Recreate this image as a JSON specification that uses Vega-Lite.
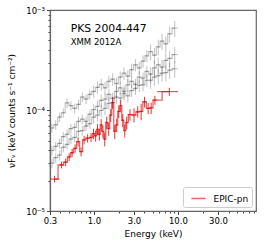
{
"$schema": "https://vega.github.io/schema/vega-lite/v6.json",
"width": 206, "height": 201,
"autosize": {"type": "none"},
"padding": {"left": 50, "top": 10, "right": 10, "bottom": 35},
"config": {
 "font": "DejaVu Sans",
 "view": {"stroke": "#666", "strokeWidth": 1.2},
 "axis": {"grid": false, "domainColor": "#666", "domainWidth": 1.2, "tickColor": "#444", "labelColor": "#000", "titleColor": "#000", "labelFontSize": 8.5, "titleFontSize": 9, "titleFontWeight": "normal", "labelFont": "DejaVu Sans", "titleFont": "DejaVu Sans"},
 "legend": {"labelFont": "DejaVu Sans"}
},
"datasets": {
"gray": [
{"s":"A","lo":0.300,"hi":0.333,"e":0.316,"f":6.7e-5,"fl":6.0e-5,"fh":7.4e-5},
{"s":"A","lo":0.333,"hi":0.370,"e":0.351,"f":7.2e-5,"fl":6.4e-5,"fh":8.0e-5},
{"s":"A","lo":0.370,"hi":0.410,"e":0.390,"f":8.6e-5,"fl":7.7e-5,"fh":9.5e-5},
{"s":"A","lo":0.410,"hi":0.455,"e":0.432,"f":9.5e-5,"fl":8.5e-5,"fh":1.05e-4},
{"s":"A","lo":0.455,"hi":0.505,"e":0.479,"f":1.19e-4,"fl":1.06e-4,"fh":1.32e-4},
{"s":"A","lo":0.505,"hi":0.560,"e":0.532,"f":1.12e-4,"fl":1.0e-4,"fh":1.24e-4},
{"s":"A","lo":0.560,"hi":0.622,"e":0.590,"f":1.05e-4,"fl":9.3e-5,"fh":1.17e-4},
{"s":"A","lo":0.622,"hi":0.690,"e":0.655,"f":1.15e-4,"fl":1.02e-4,"fh":1.28e-4},
{"s":"A","lo":0.690,"hi":0.765,"e":0.727,"f":1.36e-4,"fl":1.21e-4,"fh":1.51e-4},
{"s":"A","lo":0.765,"hi":0.849,"e":0.806,"f":1.30e-4,"fl":1.16e-4,"fh":1.44e-4},
{"s":"A","lo":0.849,"hi":0.942,"e":0.894,"f":1.45e-4,"fl":1.29e-4,"fh":1.61e-4},
{"s":"A","lo":0.942,"hi":1.046,"e":0.993,"f":1.55e-4,"fl":1.33e-4,"fh":1.77e-4},
{"s":"A","lo":1.046,"hi":1.160,"e":1.101,"f":1.70e-4,"fl":1.46e-4,"fh":1.94e-4},
{"s":"A","lo":1.160,"hi":1.288,"e":1.222,"f":1.82e-4,"fl":1.57e-4,"fh":2.07e-4},
{"s":"A","lo":1.288,"hi":1.429,"e":1.357,"f":1.68e-4,"fl":1.44e-4,"fh":1.92e-4},
{"s":"A","lo":1.429,"hi":1.585,"e":1.505,"f":1.95e-4,"fl":1.68e-4,"fh":2.22e-4},
{"s":"A","lo":1.585,"hi":1.759,"e":1.670,"f":2.05e-4,"fl":1.76e-4,"fh":2.34e-4},
{"s":"A","lo":1.759,"hi":1.952,"e":1.853,"f":1.85e-4,"fl":1.59e-4,"fh":2.11e-4},
{"s":"A","lo":1.952,"hi":2.167,"e":2.057,"f":2.15e-4,"fl":1.85e-4,"fh":2.45e-4},
{"s":"A","lo":2.167,"hi":2.404,"e":2.282,"f":2.35e-4,"fl":2.02e-4,"fh":2.68e-4},
{"s":"A","lo":2.404,"hi":2.668,"e":2.533,"f":2.20e-4,"fl":1.89e-4,"fh":2.51e-4},
{"s":"A","lo":2.668,"hi":2.961,"e":2.811,"f":2.55e-4,"fl":2.19e-4,"fh":2.91e-4},
{"s":"A","lo":2.961,"hi":3.286,"e":3.119,"f":2.85e-4,"fl":2.45e-4,"fh":3.25e-4},
{"s":"A","lo":3.286,"hi":3.647,"e":3.462,"f":2.65e-4,"fl":2.28e-4,"fh":3.02e-4},
{"s":"A","lo":3.647,"hi":4.047,"e":3.842,"f":3.10e-4,"fl":2.67e-4,"fh":3.53e-4},
{"s":"A","lo":4.047,"hi":4.491,"e":4.263,"f":3.50e-4,"fl":3.01e-4,"fh":3.99e-4},
{"s":"A","lo":4.491,"hi":4.984,"e":4.731,"f":3.85e-4,"fl":3.16e-4,"fh":4.54e-4},
{"s":"A","lo":4.984,"hi":5.531,"e":5.250,"f":3.55e-4,"fl":2.91e-4,"fh":4.19e-4},
{"s":"A","lo":5.531,"hi":6.138,"e":5.827,"f":4.30e-4,"fl":3.53e-4,"fh":5.07e-4},
{"s":"A","lo":6.138,"hi":6.812,"e":6.466,"f":4.90e-4,"fl":4.02e-4,"fh":5.78e-4},
{"s":"A","lo":6.812,"hi":7.560,"e":7.176,"f":4.60e-4,"fl":3.77e-4,"fh":5.43e-4},
{"s":"A","lo":7.560,"hi":8.390,"e":7.964,"f":5.80e-4,"fl":4.76e-4,"fh":6.84e-4},
{"s":"A","lo":8.390,"hi":10.0,"e":9.16,"f":6.60e-4,"fl":5.41e-4,"fh":7.79e-4},
{"s":"B","lo":0.300,"hi":0.333,"e":0.316,"f":4.0e-5,"fl":3.56e-5,"fh":4.44e-5},
{"s":"B","lo":0.333,"hi":0.370,"e":0.351,"f":4.4e-5,"fl":3.92e-5,"fh":4.88e-5},
{"s":"B","lo":0.370,"hi":0.410,"e":0.390,"f":4.7e-5,"fl":4.18e-5,"fh":5.22e-5},
{"s":"B","lo":0.410,"hi":0.455,"e":0.432,"f":5.5e-5,"fl":4.9e-5,"fh":6.1e-5},
{"s":"B","lo":0.455,"hi":0.505,"e":0.479,"f":5.8e-5,"fl":5.16e-5,"fh":6.44e-5},
{"s":"B","lo":0.505,"hi":0.560,"e":0.532,"f":6.6e-5,"fl":5.87e-5,"fh":7.33e-5},
{"s":"B","lo":0.560,"hi":0.622,"e":0.590,"f":6.8e-5,"fl":6.05e-5,"fh":7.55e-5},
{"s":"B","lo":0.622,"hi":0.690,"e":0.655,"f":7.8e-5,"fl":6.94e-5,"fh":8.66e-5},
{"s":"B","lo":0.690,"hi":0.765,"e":0.727,"f":8.2e-5,"fl":7.3e-5,"fh":9.1e-5},
{"s":"B","lo":0.765,"hi":0.849,"e":0.806,"f":7.8e-5,"fl":6.94e-5,"fh":8.66e-5},
{"s":"B","lo":0.849,"hi":0.942,"e":0.894,"f":9.2e-5,"fl":8.2e-5,"fh":1.02e-4},
{"s":"B","lo":0.942,"hi":1.046,"e":0.993,"f":1.02e-4,"fl":8.8e-5,"fh":1.16e-4},
{"s":"B","lo":1.046,"hi":1.160,"e":1.101,"f":1.10e-4,"fl":9.5e-5,"fh":1.25e-4},
{"s":"B","lo":1.160,"hi":1.288,"e":1.222,"f":1.26e-4,"fl":1.08e-4,"fh":1.44e-4},
{"s":"B","lo":1.288,"hi":1.429,"e":1.357,"f":1.30e-4,"fl":1.12e-4,"fh":1.48e-4},
{"s":"B","lo":1.429,"hi":1.585,"e":1.505,"f":1.45e-4,"fl":1.25e-4,"fh":1.65e-4},
{"s":"B","lo":1.585,"hi":1.759,"e":1.670,"f":1.32e-4,"fl":1.14e-4,"fh":1.5e-4},
{"s":"B","lo":1.759,"hi":1.952,"e":1.853,"f":1.55e-4,"fl":1.33e-4,"fh":1.77e-4},
{"s":"B","lo":1.952,"hi":2.167,"e":2.057,"f":1.68e-4,"fl":1.44e-4,"fh":1.92e-4},
{"s":"B","lo":2.167,"hi":2.404,"e":2.282,"f":1.55e-4,"fl":1.33e-4,"fh":1.77e-4},
{"s":"B","lo":2.404,"hi":2.668,"e":2.533,"f":1.80e-4,"fl":1.55e-4,"fh":2.05e-4},
{"s":"B","lo":2.668,"hi":2.961,"e":2.811,"f":1.95e-4,"fl":1.68e-4,"fh":2.22e-4},
{"s":"B","lo":2.961,"hi":3.286,"e":3.119,"f":1.82e-4,"fl":1.57e-4,"fh":2.07e-4},
{"s":"B","lo":3.286,"hi":3.647,"e":3.462,"f":2.15e-4,"fl":1.85e-4,"fh":2.45e-4},
{"s":"B","lo":3.647,"hi":4.047,"e":3.842,"f":2.10e-4,"fl":1.81e-4,"fh":2.39e-4},
{"s":"B","lo":4.047,"hi":4.491,"e":4.263,"f":2.45e-4,"fl":2.11e-4,"fh":2.79e-4},
{"s":"B","lo":4.491,"hi":4.984,"e":4.731,"f":2.30e-4,"fl":1.89e-4,"fh":2.71e-4},
{"s":"B","lo":4.984,"hi":5.531,"e":5.250,"f":2.65e-4,"fl":2.17e-4,"fh":3.13e-4},
{"s":"B","lo":5.531,"hi":6.138,"e":5.827,"f":2.85e-4,"fl":2.34e-4,"fh":3.36e-4},
{"s":"B","lo":6.138,"hi":6.812,"e":6.466,"f":2.70e-4,"fl":2.21e-4,"fh":3.19e-4},
{"s":"B","lo":6.812,"hi":7.560,"e":7.176,"f":3.15e-4,"fl":2.58e-4,"fh":3.72e-4},
{"s":"B","lo":7.560,"hi":8.390,"e":7.964,"f":3.30e-4,"fl":2.71e-4,"fh":3.89e-4},
{"s":"B","lo":8.390,"hi":10.0,"e":9.16,"f":3.60e-4,"fl":2.95e-4,"fh":4.25e-4},
{"s":"C","lo":0.300,"hi":0.333,"e":0.316,"f":3.0e-5,"fl":2.67e-5,"fh":3.33e-5},
{"s":"C","lo":0.333,"hi":0.370,"e":0.351,"f":3.4e-5,"fl":3.03e-5,"fh":3.77e-5},
{"s":"C","lo":0.370,"hi":0.410,"e":0.390,"f":3.6e-5,"fl":3.2e-5,"fh":4.0e-5},
{"s":"C","lo":0.410,"hi":0.455,"e":0.432,"f":4.3e-5,"fl":3.83e-5,"fh":4.77e-5},
{"s":"C","lo":0.455,"hi":0.505,"e":0.479,"f":4.6e-5,"fl":4.09e-5,"fh":5.11e-5},
{"s":"C","lo":0.505,"hi":0.560,"e":0.532,"f":5.2e-5,"fl":4.63e-5,"fh":5.77e-5},
{"s":"C","lo":0.560,"hi":0.622,"e":0.590,"f":5.4e-5,"fl":4.8e-5,"fh":6.0e-5},
{"s":"C","lo":0.622,"hi":0.690,"e":0.655,"f":6.2e-5,"fl":5.52e-5,"fh":6.88e-5},
{"s":"C","lo":0.690,"hi":0.765,"e":0.727,"f":6.3e-5,"fl":5.6e-5,"fh":7.0e-5},
{"s":"C","lo":0.765,"hi":0.849,"e":0.806,"f":7.0e-5,"fl":6.23e-5,"fh":7.77e-5},
{"s":"C","lo":0.849,"hi":0.942,"e":0.894,"f":7.4e-5,"fl":6.59e-5,"fh":8.21e-5},
{"s":"C","lo":0.942,"hi":1.046,"e":0.993,"f":8.6e-5,"fl":7.4e-5,"fh":9.8e-5},
{"s":"C","lo":1.046,"hi":1.160,"e":1.101,"f":9.0e-5,"fl":7.74e-5,"fh":1.03e-4},
{"s":"C","lo":1.160,"hi":1.288,"e":1.222,"f":1.0e-4,"fl":8.6e-5,"fh":1.14e-4},
{"s":"C","lo":1.288,"hi":1.429,"e":1.357,"f":1.05e-4,"fl":9.0e-5,"fh":1.2e-4},
{"s":"C","lo":1.429,"hi":1.585,"e":1.505,"f":1.18e-4,"fl":1.01e-4,"fh":1.35e-4},
{"s":"C","lo":1.585,"hi":1.759,"e":1.670,"f":1.20e-4,"fl":1.03e-4,"fh":1.37e-4},
{"s":"C","lo":1.759,"hi":1.952,"e":1.853,"f":1.36e-4,"fl":1.17e-4,"fh":1.55e-4},
{"s":"C","lo":1.952,"hi":2.167,"e":2.057,"f":1.33e-4,"fl":1.14e-4,"fh":1.52e-4},
{"s":"C","lo":2.167,"hi":2.404,"e":2.282,"f":1.48e-4,"fl":1.27e-4,"fh":1.69e-4},
{"s":"C","lo":2.404,"hi":2.668,"e":2.533,"f":1.40e-4,"fl":1.2e-4,"fh":1.6e-4},
{"s":"C","lo":2.668,"hi":2.961,"e":2.811,"f":1.58e-4,"fl":1.36e-4,"fh":1.8e-4},
{"s":"C","lo":2.961,"hi":3.286,"e":3.119,"f":1.66e-4,"fl":1.43e-4,"fh":1.89e-4},
{"s":"C","lo":3.286,"hi":3.647,"e":3.462,"f":1.78e-4,"fl":1.53e-4,"fh":2.03e-4},
{"s":"C","lo":3.647,"hi":4.047,"e":3.842,"f":1.80e-4,"fl":1.55e-4,"fh":2.05e-4},
{"s":"C","lo":4.047,"hi":4.491,"e":4.263,"f":2.0e-4,"fl":1.72e-4,"fh":2.28e-4},
{"s":"C","lo":4.491,"hi":4.984,"e":4.731,"f":2.0e-4,"fl":1.64e-4,"fh":2.36e-4},
{"s":"C","lo":4.984,"hi":5.531,"e":5.250,"f":2.15e-4,"fl":1.76e-4,"fh":2.54e-4},
{"s":"C","lo":5.531,"hi":6.138,"e":5.827,"f":2.22e-4,"fl":1.82e-4,"fh":2.62e-4},
{"s":"C","lo":6.138,"hi":6.812,"e":6.466,"f":2.35e-4,"fl":1.93e-4,"fh":2.77e-4},
{"s":"C","lo":6.812,"hi":7.560,"e":7.176,"f":2.38e-4,"fl":1.95e-4,"fh":2.81e-4},
{"s":"C","lo":7.560,"hi":8.390,"e":7.964,"f":2.52e-4,"fl":2.07e-4,"fh":2.97e-4},
{"s":"C","lo":8.390,"hi":10.0,"e":9.16,"f":2.60e-4,"fl":2.13e-4,"fh":3.07e-4}
],
"red": [
{"lo":0.30,"hi":0.39,"e":0.34,"f":2.08e-5,"fl":1.93e-5,"fh":2.24e-5},
{"lo":0.39,"hi":0.436,"e":0.412,"f":2.87e-5,"fl":2.65e-5,"fh":3.1e-5},
{"lo":0.436,"hi":0.487,"e":0.461,"f":3.06e-5,"fl":2.8e-5,"fh":3.32e-5},
{"lo":0.487,"hi":0.528,"e":0.507,"f":3.45e-5,"fl":3.15e-5,"fh":3.75e-5},
{"lo":0.528,"hi":0.573,"e":0.55,"f":3.8e-5,"fl":3.45e-5,"fh":4.15e-5},
{"lo":0.573,"hi":0.622,"e":0.597,"f":4.2e-5,"fl":3.8e-5,"fh":4.6e-5},
{"lo":0.622,"hi":0.675,"e":0.648,"f":4.9e-5,"fl":4.4e-5,"fh":5.4e-5},
{"lo":0.675,"hi":0.733,"e":0.703,"f":3.9e-5,"fl":3.5e-5,"fh":4.3e-5},
{"lo":0.733,"hi":0.796,"e":0.764,"f":5.1e-5,"fl":4.6e-5,"fh":5.6e-5},
{"lo":0.796,"hi":0.889,"e":0.841,"f":5.3e-5,"fl":4.8e-5,"fh":5.8e-5},
{"lo":0.889,"hi":0.96,"e":0.924,"f":5.4e-5,"fl":4.85e-5,"fh":5.95e-5},
{"lo":0.96,"hi":1.02,"e":0.99,"f":5.9e-5,"fl":5.2e-5,"fh":6.6e-5},
{"lo":1.02,"hi":1.076,"e":1.048,"f":5.6e-5,"fl":4.9e-5,"fh":6.3e-5},
{"lo":1.076,"hi":1.13,"e":1.103,"f":6.5e-5,"fl":5.7e-5,"fh":7.3e-5},
{"lo":1.13,"hi":1.19,"e":1.16,"f":5.8e-5,"fl":5.0e-5,"fh":6.6e-5},
{"lo":1.19,"hi":1.25,"e":1.22,"f":7.2e-5,"fl":6.2e-5,"fh":8.2e-5},
{"lo":1.25,"hi":1.31,"e":1.28,"f":6.2e-5,"fl":5.3e-5,"fh":7.1e-5},
{"lo":1.31,"hi":1.38,"e":1.345,"f":5.2e-5,"fl":4.4e-5,"fh":6.0e-5},
{"lo":1.38,"hi":1.46,"e":1.42,"f":7.6e-5,"fl":6.5e-5,"fh":8.7e-5},
{"lo":1.46,"hi":1.54,"e":1.50,"f":6.6e-5,"fl":5.6e-5,"fh":7.6e-5},
{"lo":1.54,"hi":1.63,"e":1.585,"f":9.0e-5,"fl":7.7e-5,"fh":1.03e-4},
{"lo":1.63,"hi":1.72,"e":1.675,"f":1.2e-4,"fl":1.04e-4,"fh":1.36e-4},
{"lo":1.72,"hi":1.82,"e":1.77,"f":6.2e-5,"fl":5.2e-5,"fh":7.2e-5},
{"lo":1.82,"hi":1.92,"e":1.87,"f":7.2e-5,"fl":6.1e-5,"fh":8.3e-5},
{"lo":1.92,"hi":2.03,"e":1.975,"f":9.8e-5,"fl":8.4e-5,"fh":1.12e-4},
{"lo":2.03,"hi":2.14,"e":2.085,"f":1.12e-4,"fl":9.6e-5,"fh":1.28e-4},
{"lo":2.14,"hi":2.27,"e":2.205,"f":8.0e-5,"fl":6.8e-5,"fh":9.2e-5},
{"lo":2.27,"hi":2.39,"e":2.33,"f":6.3e-5,"fl":5.4e-5,"fh":7.2e-5},
{"lo":2.39,"hi":2.53,"e":2.46,"f":7.6e-5,"fl":6.5e-5,"fh":8.7e-5},
{"lo":2.53,"hi":2.85,"e":2.685,"f":9.1e-5,"fl":7.9e-5,"fh":1.03e-4},
{"lo":2.85,"hi":3.15,"e":3.0,"f":9.0e-5,"fl":7.6e-5,"fh":1.05e-4},
{"lo":3.15,"hi":3.50,"e":3.32,"f":9.7e-5,"fl":8.5e-5,"fh":1.1e-4},
{"lo":3.50,"hi":3.80,"e":3.65,"f":9.8e-5,"fl":8.0e-5,"fh":1.16e-4},
{"lo":3.80,"hi":4.24,"e":4.01,"f":1.22e-4,"fl":1.07e-4,"fh":1.37e-4},
{"lo":4.24,"hi":4.60,"e":4.42,"f":1.05e-4,"fl":9.2e-5,"fh":1.19e-4},
{"lo":4.60,"hi":5.00,"e":4.8,"f":1.06e-4,"fl":9.2e-5,"fh":1.2e-4},
{"lo":5.00,"hi":5.66,"e":5.32,"f":1.27e-4,"fl":1.14e-4,"fh":1.40e-4},
{"lo":5.66,"hi":10.0,"e":7.9,"f":1.54e-4,"fl":1.40e-4,"fh":1.68e-4}
]
},
"layer": [
 {"data": {"name": "gray"}, "mark": {"type": "rule", "color": "#333", "opacity": 0.3, "strokeWidth": 1, "clip": true},
  "encoding": {
   "x": {"field": "e", "type": "quantitative", "scale": {"type": "log", "domain": [0.3, 85], "nice": false},
    "axis": {"title": "Energy (keV)", "values": [0.3,0.4,0.5,0.6,0.7,0.8,0.9,1,2,3,4,5,6,7,8,9,10,20,30,40,50,60,70,80],
     "labelExpr": "datum.value==0.3?'0.3':datum.value==1?'1.0':datum.value==3?'3.0':datum.value==10?'10.0':datum.value==30?'30.0':''",
     "tickSize": {"condition": {"test": "indexof([0.3,1,3,10,30], datum.value) >= 0", "value": 3.5}, "value": 2},
     "labelPadding": 2, "titlePadding": 4, "labelFlush": false, "labelOverlap": false}},
   "y": {"field": "fl", "type": "quantitative", "scale": {"type": "log", "domain": [1e-5, 1e-3], "nice": false},
    "axis": {"title": "νFᵥ (keV counts s⁻¹ cm⁻²)", "values": [1e-5,2e-5,3e-5,4e-5,5e-5,6e-5,7e-5,8e-5,9e-5,1e-4,2e-4,3e-4,4e-4,5e-4,6e-4,7e-4,8e-4,9e-4,1e-3],
     "labelExpr": "datum.value==0.001?'10⁻³':datum.value==0.0001?'10⁻⁴':datum.value==0.00001?'10⁻⁵':''",
     "tickSize": {"condition": {"test": "datum.value==0.001||datum.value==0.0001||datum.value==0.00001", "value": 3.5}, "value": 2},
     "labelPadding": 2, "titlePadding": 9, "labelFlush": false, "labelOverlap": false}},
   "y2": {"field": "fh"},
   "detail": {"field": "s"}
  }},
 {"data": {"name": "gray"}, "mark": {"type": "rule", "color": "#333", "opacity": 0.3, "strokeWidth": 1, "clip": true},
  "encoding": {
   "x": {"field": "lo", "type": "quantitative", "scale": {"type": "log", "domain": [0.3, 85], "nice": false}},
   "x2": {"field": "hi"},
   "y": {"field": "f", "type": "quantitative", "scale": {"type": "log", "domain": [1e-5, 1e-3], "nice": false}},
   "detail": {"field": "s"}
  }},
 {"data": {"name": "gray"}, "mark": {"type": "line", "color": "#333", "opacity": 0.28, "strokeWidth": 1.2, "interpolate": "step", "clip": true},
  "encoding": {
   "x": {"field": "e", "type": "quantitative", "scale": {"type": "log", "domain": [0.3, 85], "nice": false}},
   "y": {"field": "f", "type": "quantitative", "scale": {"type": "log", "domain": [1e-5, 1e-3], "nice": false}},
   "detail": {"field": "s"}
  }},
 {"data": {"name": "red"}, "mark": {"type": "rule", "color": "#e00000", "opacity": 0.8, "strokeWidth": 1, "clip": true},
  "encoding": {
   "x": {"field": "e", "type": "quantitative", "scale": {"type": "log", "domain": [0.3, 85], "nice": false}},
   "y": {"field": "fl", "type": "quantitative", "scale": {"type": "log", "domain": [1e-5, 1e-3], "nice": false}},
   "y2": {"field": "fh"}
  }},
 {"data": {"name": "red"}, "mark": {"type": "rule", "color": "#e00000", "opacity": 0.8, "strokeWidth": 1, "clip": true},
  "encoding": {
   "x": {"field": "lo", "type": "quantitative", "scale": {"type": "log", "domain": [0.3, 85], "nice": false}},
   "x2": {"field": "hi"},
   "y": {"field": "f", "type": "quantitative", "scale": {"type": "log", "domain": [1e-5, 1e-3], "nice": false}}
  }},
 {"data": {"name": "red"}, "mark": {"type": "line", "opacity": 0.6, "strokeWidth": 1.3, "interpolate": "step", "clip": true},
  "encoding": {
   "x": {"field": "e", "type": "quantitative", "scale": {"type": "log", "domain": [0.3, 85], "nice": false}},
   "y": {"field": "f", "type": "quantitative", "scale": {"type": "log", "domain": [1e-5, 1e-3], "nice": false}},
   "color": {"datum": "EPIC-pn", "type": "nominal", "scale": {"range": ["#e00000"]},
    "legend": {"title": null, "orient": "bottom-right", "offset": 4, "symbolType": "stroke", "symbolSize": 200, "symbolStrokeWidth": 1.5,
     "labelFontSize": 9, "labelColor": "#000", "padding": 3.5, "symbolOffset": 4, "labelOffset": 7,
     "strokeColor": "#ccc", "fillColor": "white", "cornerRadius": 2}}
  }},
 {"data": {"values": [{}]}, "mark": {"type": "text", "align": "left", "baseline": "alphabetic", "fontSize": 10.8, "font": "DejaVu Sans", "color": "#000"},
  "encoding": {
   "x": {"datum": 0.529, "type": "quantitative", "scale": {"type": "log", "domain": [0.3, 85], "nice": false}},
   "y": {"datum": 6.08e-4, "type": "quantitative", "scale": {"type": "log", "domain": [1e-5, 1e-3], "nice": false}},
   "text": {"value": "PKS 2004-447"}
  }},
 {"data": {"values": [{}]}, "mark": {"type": "text", "align": "left", "baseline": "alphabetic", "fontSize": 8.5, "font": "DejaVu Sans", "color": "#000"},
  "encoding": {
   "x": {"datum": 0.529, "type": "quantitative", "scale": {"type": "log", "domain": [0.3, 85], "nice": false}},
   "y": {"datum": 4.49e-4, "type": "quantitative", "scale": {"type": "log", "domain": [1e-5, 1e-3], "nice": false}},
   "text": {"value": "XMM 2012A"}
  }}
]
}
